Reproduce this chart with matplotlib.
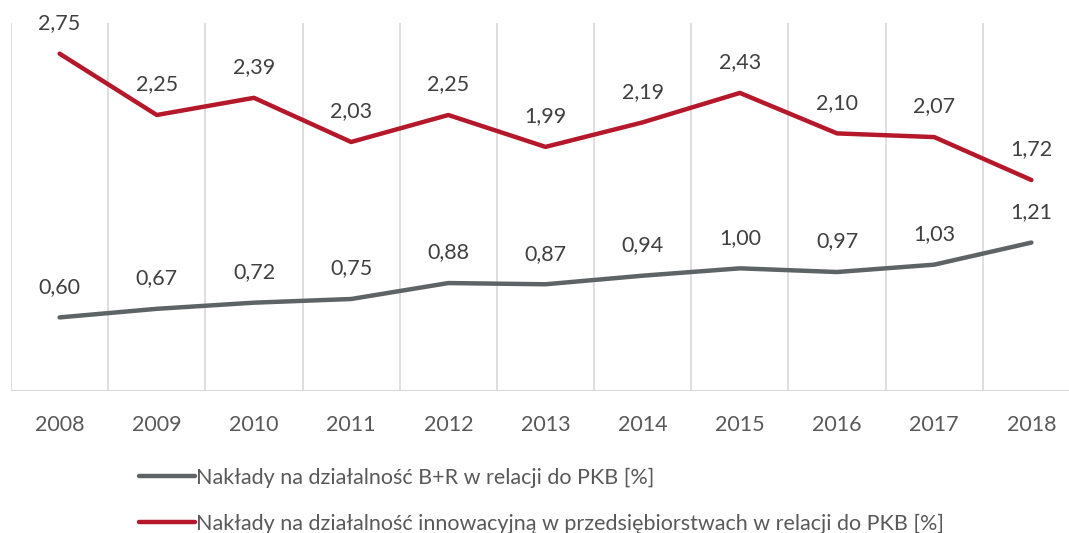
import matplotlib
matplotlib.use("Agg")
import matplotlib.pyplot as plt

years = ["2008", "2009", "2010", "2011", "2012", "2013", "2014", "2015", "2016", "2017", "2018"]
br_gdp = [0.60, 0.67, 0.72, 0.75, 0.88, 0.87, 0.94, 1.00, 0.97, 1.03, 1.21]
innov_gdp = [2.75, 2.25, 2.39, 2.03, 2.25, 1.99, 2.19, 2.43, 2.10, 2.07, 1.72]
labels = [
    "Nakłady na działalność B+R w relacji do PKB [%]",
    "Nakłady na działalność innowacyjną w przedsiębiorstwach w relacji do PKB [%]",
]

GRAY = "#5E6366"
RED = "#B5172B"
plt.rcParams["font.family"] = ["Lato", "DejaVu Sans"]
FS = 15.5

W, H = 1069, 533
fig = plt.figure(figsize=(W / 100, H / 100), dpi=100)
ax = fig.add_axes([11 / W, (H - 391) / H, (1080 - 11) / W, (391 - 23) / H])

x = list(range(len(years)))
ax.plot(x, br_gdp, color=GRAY, lw=3.2, solid_capstyle="round", label=labels[0])
ax.plot(x, innov_gdp, color=RED, lw=3.2, solid_capstyle="round", label=labels[1])

for series in (br_gdp, innov_gdp):
    for xi, v in zip(x, series):
        ax.annotate(f"{v:.2f}".replace(".", ","), (xi, v), xytext=(0, 22), textcoords="offset points",
                    ha="center", va="center", fontsize=FS, color="#404040")

ax.set_xlim(-0.5, len(years) - 0.5)
ax.set_ylim(0, 3.0)
for b in range(len(years) + 1):
    ax.axvline(b - 0.5, color="#D9D9D9", lw=1.2, zorder=0)
ax.axhline(0, color="#D9D9D9", lw=1.5, zorder=0)
for s in ax.spines.values():
    s.set_visible(False)
ax.set_yticks([])
ax.set_xticks(x)
ax.set_xticklabels(years, fontsize=FS, color="#595959")
ax.tick_params(axis="x", length=0, pad=17)

fig.legend(loc="upper left", bbox_to_anchor=(130 / W, 1 - 459 / H), frameon=False,
           fontsize=FS, handlelength=2.6, handletextpad=0.05, labelspacing=1.2,
           labelcolor="#595959", borderaxespad=0)

fig.savefig("out.png", dpi=100)
